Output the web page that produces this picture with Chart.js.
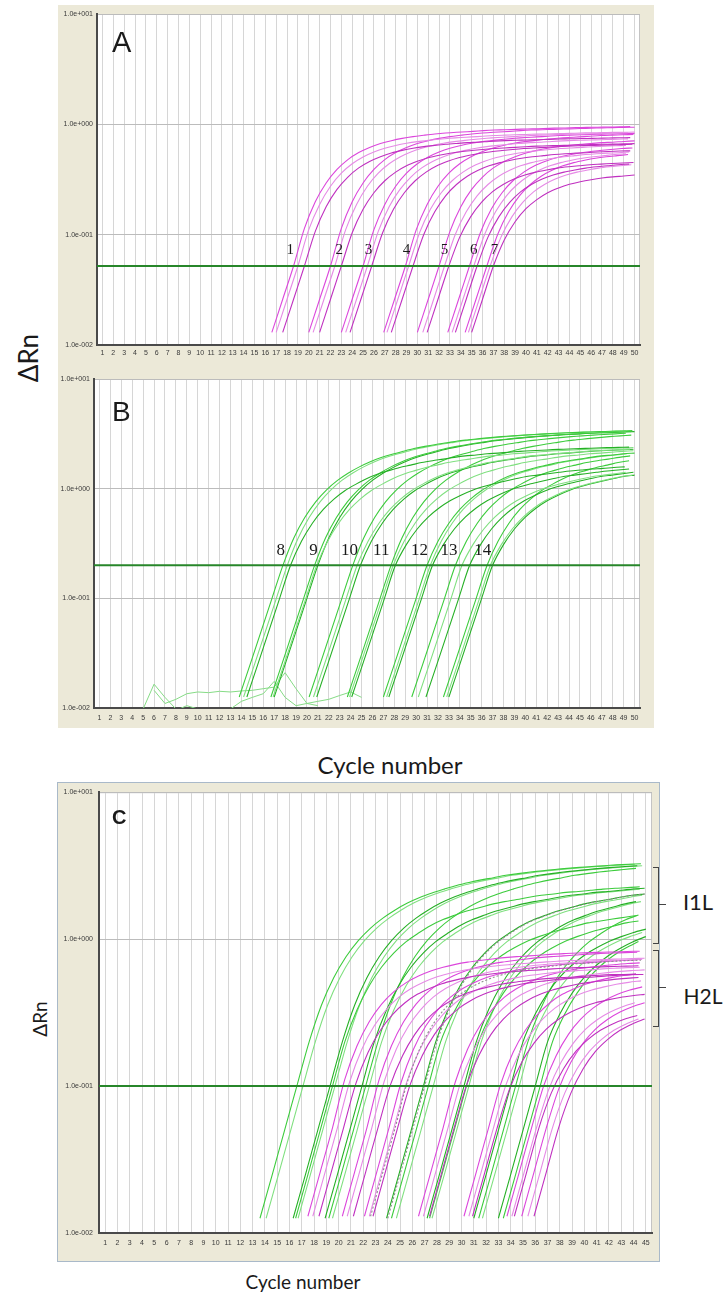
<!DOCTYPE html>
<html>
<head>
<meta charset="utf-8">
<script src="https://cdn.jsdelivr.net/npm/chart.js@4.4.0/dist/chart.umd.min.js"></script>
<style>
  body { margin: 0; width: 725px; height: 1295px; background: #fff; position: relative; overflow: hidden; }
  .panel { position: absolute; background: #ece9d8; }
  .panel canvas { display: block; }
  #panelA { left: 58px; top: 5px; }
  #panelB { left: 58px; top: 362px; }
  #panelC { left: 57px; top: 782px; }
  #frameC { position: absolute; left: 57px; top: 782px; width: 601px; height: 478px; border: 1px solid #a9b9c9; }
  .txt { position: absolute; color: #1a1a1a; white-space: nowrap; line-height: 1; }
  .letter { font-family: "Liberation Sans", Arial, sans-serif; }
  .lato { font-family: Lato, "Open Sans", sans-serif; transform: translate(-50%, -50%); }
  .rot { transform: translate(-50%, -50%) rotate(-90deg); }
  .brk { position: absolute; border: 1.5px solid #444; border-left: none; width: 5px; }
  .tick { position: absolute; border-top: 1.5px solid #444; width: 7px; }
</style>
</head>
<body>
<div class="panel" id="panelA"><canvas id="chartA" width="596" height="357"></canvas></div>
<div class="panel" id="panelB"><canvas id="chartB" width="596" height="366"></canvas></div>
<div class="panel" id="panelC"><canvas id="chartC" width="603" height="480"></canvas></div>
<div id="frameC"></div>

<div class="txt letter" style="left:112px; top:28px; font-size:29px;">A</div>
<div class="txt letter" style="left:112px; top:398px; font-size:28px;">B</div>
<div class="txt letter" style="left:112px; top:807px; font-size:20px; font-weight:bold;">C</div>

<div class="txt lato rot" style="left:28px; top:358px; font-size:26px;">ΔRn</div>
<div class="txt lato" style="left:390px; top:765px; font-size:24px;">Cycle number</div>
<div class="txt lato rot" style="left:39px; top:1019px; font-size:19px;">ΔRn</div>
<div class="txt lato" style="left:303px; top:1281px; font-size:19px;">Cycle number</div>

<div class="brk" style="left:653px; top:867px; height:75px;"></div>
<div class="tick" style="left:659px; top:904px;"></div>
<div class="txt lato" style="left:698px; top:902px; font-size:22px;">I1L</div>
<div class="brk" style="left:653px; top:950px; height:75px;"></div>
<div class="tick" style="left:659px; top:987px;"></div>
<div class="txt lato" style="left:703px; top:995px; font-size:21px;">H2L</div>

<script>
// amplification shapes, one value per cycle (ΔRn)
// H2L (magenta) runs, first point sits 2 cycles before the 0.052 crossing
const shapeM0 = [0.013,0.026,0.052,0.114,0.199,0.294,0.390,0.479,0.555,0.618,0.670,0.711,0.746,0.774,0.796,0.817,0.834,0.847,0.857,0.871,0.883,0.891,0.897,0.904,0.910,0.916,0.923,0.927,0.933,0.938,0.942,0.946,0.948,0.953];
const shapeM05 = [0.013,0.026,0.052,0.111,0.188,0.275,0.361,0.439,0.506,0.561,0.607,0.643,0.673,0.697,0.716,0.733,0.748,0.760,0.769,0.780,0.791,0.798,0.804,0.809,0.815,0.818,0.824,0.828,0.834,0.838,0.841,0.845,0.847,0.851];
const shapeM10 = [0.013,0.026,0.052,0.107,0.179,0.257,0.333,0.403,0.461,0.509,0.550,0.581,0.607,0.628,0.644,0.659,0.671,0.682,0.689,0.700,0.708,0.715,0.719,0.723,0.728,0.733,0.738,0.741,0.745,0.748,0.752,0.755,0.757,0.760];
const shapeM15 = [0.013,0.026,0.052,0.104,0.170,0.240,0.308,0.369,0.421,0.462,0.497,0.524,0.547,0.565,0.579,0.592,0.603,0.611,0.618,0.627,0.634,0.640,0.643,0.647,0.652,0.655,0.659,0.662,0.665,0.668,0.671,0.675,0.676,0.678];
const shapeM20 = [0.013,0.026,0.052,0.101,0.161,0.225,0.285,0.339,0.384,0.421,0.450,0.473,0.493,0.508,0.520,0.532,0.541,0.548,0.553,0.561,0.568,0.573,0.575,0.579,0.582,0.586,0.589,0.592,0.596,0.597,0.600,0.603,0.604,0.605];
const shapeM30 = [0.013,0.026,0.052,0.095,0.145,0.196,0.244,0.285,0.319,0.347,0.369,0.386,0.401,0.412,0.421,0.430,0.436,0.442,0.446,0.451,0.456];
const shapeM40 = [0.013,0.026,0.052,0.0895,0.131,0.172,0.208,0.240,0.265,0.286,0.302,0.315,0.326,0.334,0.340,0.347,0.352,0.355];
// I1L (green) runs, first point sits 4 cycles before the 0.2 crossing
const shapeG55 = [0.0126,0.025,0.05,0.10,0.20,0.355,0.546,0.759,0.977,1.19,1.39,1.58,1.76,1.92,2.06,2.19,2.32,2.43,2.53,2.62,2.72,2.79,2.86,2.92,2.98,3.03,3.08,3.12,3.16,3.20,3.23,3.26,3.29,3.31,3.34,3.36,3.38];
const shapeG40 = [0.0126,0.025,0.05,0.10,0.20,0.331,0.484,0.646,0.807,0.962,1.10,1.24,1.36,1.46,1.56,1.64,1.73,1.80,1.86,1.93,1.99,2.03,2.08,2.11,2.15,2.19,2.22,2.24,2.27,2.29,2.31,2.33,2.35,2.37,2.38,2.39,2.40];
const shapeG25 = [0.0126,0.025,0.05,0.10,0.20,0.309,0.429,0.551,0.667,0.776,0.873,0.964,1.04,1.11,1.17,1.23,1.29,1.33,1.37,1.41,1.45,1.48,1.51,1.53,1.56,1.58,1.60,1.62,1.64];

// panel A: first cycle of each curve and its shape (3 replicates x 7 dilutions)
const aFirst = [16.6,17.0,17.6, 20.0,20.4,21.0, 23.0,23.4,23.8, 26.9,27.2,27.6, 30.0,30.5,30.9, 32.8,33.2,33.5, 34.4,34.7,35.0];
const aShape = ['M0','M05','M10', 'M0','M05','M15', 'M05','M10','M15', 'M05','M15','M20', 'M10','M20','M30', 'M15','M20','M30', 'M20','M30','M40'];
const aThreshold = 0.052;
const aLabels = ['1','2','3','4','5','6','7'];
const aLabelCycles = [18.3,22.8,25.5,29.0,32.5,35.2,37.1];
const aLabelValue = 0.072;

// panel B
const bFirst = [13.8,14.2,14.5, 16.7,16.9,17.0, 20.2,20.6,20.9, 23.7,23.9,24.1, 27.0,27.3,27.5, 29.6,30.2,30.9, 32.5,32.8,33.0];
const bShape = ['G55','G55','G40', 'G55','G40','G55', 'G55','G40','G40', 'G55','G40','G25', 'G40','G40','G25', 'G40','G25','G25', 'G40','G25','G25'];
const bThreshold = 0.2;
const bLabels = ['8','9','10','11','12','13','14'];
const bLabelCycles = [17.6,20.6,23.9,26.8,30.3,33.0,36.1];
const bLabelValue = 0.27;
// baseline noise (no amplification)
const bNoiseFirst = [5, 6, 13, 8];
const bNoise1 = [0.0098,0.0165,0.0125,0.0098,0.0094,0.0092];
const bNoise2 = [0.0145,0.0110,0.0120,0.0135,0.0140,0.0138,0.0142,0.0140,0.0143,0.0145,0.0150,0.0155,0.0210,0.0150,0.0110,0.0105];
const bNoise3 = [0.0098,0.0115,0.0125,0.0135,0.0175,0.0125,0.0105,0.0110,0.0115,0.0120,0.0130,0.0140,0.0125];
const bNoise4 = [0.0095,0.0105,0.0098,0.0094];

// panel C: both assays together
const cMagFirst = [17.5,17.9,18.4, 20.3,20.7,21.2, 22.1,22.5,22.8, 26.5,26.9,27.4, 30.2,30.6,30.9, 33.7,34.1,34.3, 34.9,35.4,35.9];
const cMagShape = ['M05','M10','M15', 'M05','M10','M20', 'M10','M15','M20', 'M10','M15','M20', 'M15','M20','M30', 'M20','M30','M40', 'M30','M40','M40'];
const cGreenFirst = [13.6,14.1, 16.3,16.5,16.7, 18.9,19.2,19.5, 23.9,24.3,24.7, 27.2,27.4,27.6, 31.0,31.4,31.7, 33.0,33.4];
const cGreenShape = ['G55','G55', 'G55','G40','G55', 'G40','G55','G40', 'G40','G25','G40', 'G40','G25','G40', 'G25','G40','G25', 'G25','G25'];
const cGreyFirst = [22.6, 24.0];
const cGreyShape = ['M10','G40'];
const cThreshold = 0.1;

const cycles50 = Array.from({ length: 50 }, (_, i) => i + 1);
const cycles45 = Array.from({ length: 45 }, (_, i) => i + 1);
const yTicks = [0.01, 0.1, 1, 10];

const shapeTable = { M0: shapeM0, M05: shapeM05, M10: shapeM10, M15: shapeM15, M20: shapeM20, M30: shapeM30, M40: shapeM40,
  G55: shapeG55, G40: shapeG40, G25: shapeG25 };

const magenta = ['#dc46dc', '#e68ae6', '#c030c0'];
const green = ['#3ccc3c', '#80e080', '#25b025'];

function curveData(first, values, lastCycle) {
  const pts = [];
  values.forEach((v, i) => {
    const c = first + i;
    if (c <= lastCycle + 0.001) pts.push({ x: c, y: v });
  });
  return pts;
}

function curves(firsts, names, palette, lastCycle, extra) {
  return firsts.map((f, i) => Object.assign({
    data: curveData(f, shapeTable[names[i]], lastCycle),
    borderColor: palette[i % palette.length],
    borderWidth: 1.1,
    tension: 0.3
  }, extra || {}));
}

function thresholdLine(value, lastCycle) {
  return {
    data: [{ x: 0.5, y: value }, { x: lastCycle + 0.5, y: value }],
    borderColor: '#27862a',
    borderWidth: 2,
    tension: 0
  };
}

function fmtExp(v) {
  const e = Math.round(Math.log10(v));
  return '1.0e' + (e < 0 ? '-' : '+') + String(Math.abs(e)).padStart(3, '0');
}

const plotBg = {
  id: 'plotBg',
  beforeDraw(chart) {
    const a = chart.chartArea, ctx = chart.ctx;
    ctx.save();
    ctx.fillStyle = '#ffffff';
    ctx.fillRect(a.left, a.top, a.right - a.left, a.bottom - a.top);
    ctx.strokeStyle = '#c4c4c4';
    ctx.lineWidth = 1;
    ctx.strokeRect(a.left + 0.5, a.top + 0.5, a.right - a.left - 1, a.bottom - a.top - 1);
    ctx.restore();
  }
};

const runLabels = {
  id: 'runLabels',
  afterDatasetsDraw(chart, args, opts) {
    if (!opts.texts) return;
    const ctx = chart.ctx, xs = chart.scales.x, ys = chart.scales.y;
    ctx.save();
    ctx.font = opts.font;
    ctx.fillStyle = '#1a1a1a';
    ctx.textAlign = 'center';
    ctx.textBaseline = 'middle';
    opts.texts.forEach((t, i) => {
      ctx.fillText(t, xs.getPixelForValue(opts.cycles[i]), ys.getPixelForValue(opts.value));
    });
    ctx.restore();
  }
};

function makeChart(id, cfg) {
  return new Chart(document.getElementById(id).getContext('2d'), {
    type: 'line',
    data: { datasets: cfg.datasets },
    options: {
      responsive: false,
      animation: false,
      events: [],
      layout: { autoPadding: false, padding: { top: cfg.padTop, right: cfg.padRight, bottom: 0, left: 0 } },
      elements: { point: { radius: 0 } },
      plugins: {
        legend: { display: false },
        tooltip: { enabled: false },
        runLabels: cfg.labels || {}
      },
      scales: {
        x: {
          type: 'linear',
          min: 0.5,
          max: cfg.cycles.length + 0.5,
          afterBuildTicks: ax => { ax.ticks = cfg.cycles.map(v => ({ value: v })); },
          afterFit: ax => { ax.height = cfg.xAxisH; },
          ticks: { autoSkip: false, maxRotation: 0, color: '#3a3a3a', padding: cfg.xPad,
            font: { family: 'Arial, "Liberation Sans"', size: 7 } },
          grid: { color: '#d6d6d6', drawTicks: false },
          border: { color: '#4a4a4a', width: 2 }
        },
        y: {
          type: 'logarithmic',
          min: 0.01,
          max: 10,
          afterBuildTicks: ax => { ax.ticks = yTicks.map(v => ({ value: v })); },
          afterFit: ax => { ax.width = cfg.yAxisW; },
          ticks: { callback: v => fmtExp(v), color: '#3a3a3a', padding: cfg.yPad,
            font: { family: 'Arial, "Liberation Sans"', size: 7 } },
          grid: { color: '#bcbcbc', drawTicks: false },
          border: { color: '#4a4a4a', width: 2 }
        }
      }
    },
    plugins: [plotBg, runLabels]
  });
}

const bNoise = [bNoise1, bNoise2, bNoise3, bNoise4].map((vals, i) => ({
  data: curveData(bNoiseFirst[i], vals, 50),
  borderColor: '#86dc86',
  borderWidth: 1,
  tension: 0
}));

makeChart('chartA', {
  cycles: cycles50, padTop: 9, padRight: 14, yAxisW: 39, xAxisH: 17, xPad: 4, yPad: 4,
  datasets: [thresholdLine(aThreshold, 50)].concat(curves(aFirst, aShape, magenta, 50)),
  labels: { texts: aLabels, cycles: aLabelCycles, value: aLabelValue, font: '15px "Liberation Serif", serif' }
});

makeChart('chartB', {
  cycles: cycles50, padTop: 17, padRight: 14, yAxisW: 36, xAxisH: 20, xPad: 6, yPad: 4,
  datasets: [thresholdLine(bThreshold, 50)].concat(curves(bFirst, bShape, green, 50), bNoise),
  labels: { texts: bLabels, cycles: bLabelCycles, value: bLabelValue, font: '17px "Liberation Serif", serif' }
});

makeChart('chartC', {
  cycles: cycles45, padTop: 8, padRight: 8, yAxisW: 42, xAxisH: 29, xPad: 6, yPad: 6,
  datasets: [thresholdLine(cThreshold, 45)].concat(
    curves(cGreyFirst, cGreyShape, ['#8e8e8e'], 45, { borderDash: [2, 2] }),
    curves(cMagFirst, cMagShape, magenta, 45),
    curves(cGreenFirst, cGreenShape, green, 45))
});
</script>
</body>
</html>
